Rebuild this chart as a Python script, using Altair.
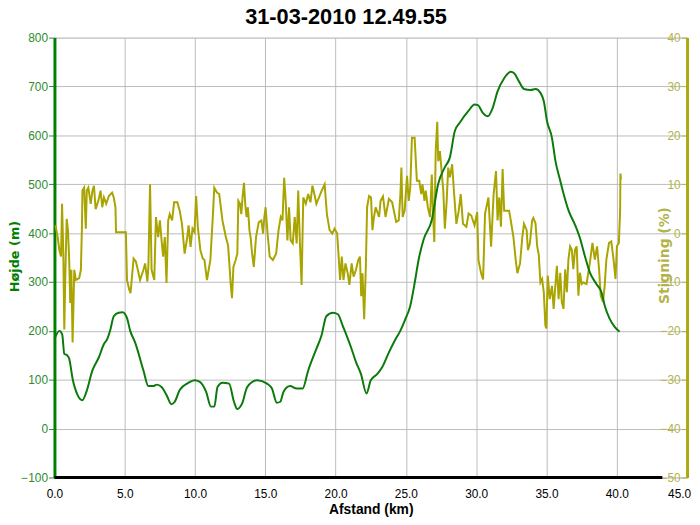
import altair as alt
import pandas as pd

TITLE = "31-03-2010 12.49.55"
X_TITLE = "Afstand (km)"
Y_LEFT_TITLE = "Højde (m)"
Y_RIGHT_TITLE = "Stigning (%)"

x_ticks = [0, 5, 10, 15, 20, 25, 30, 35, 40, 45]
elev_ticks = [-100, 0, 100, 200, 300, 400, 500, 600, 700, 800]
grade_ticks = [-50, -40, -30, -20, -10, 0, 10, 20, 30, 40]

# Elevation profile (km, m)
elev_points = [
    (0.0, 183), (0.35, 200), (0.55, 193), (0.70, 153), (0.90, 150), (1.05, 143),
    (1.29, 102), (1.64, 69), (1.99, 58), (2.27, 75), (2.70, 119), (3.16, 146),
    (3.52, 173), (3.75, 183), (3.98, 203), (4.22, 230), (4.57, 237), (4.85, 238),
    (5.15, 227), (5.39, 200), (5.74, 176), (6.33, 119), (6.68, 87), (7.03, 87),
    (7.27, 90), (7.62, 85), (7.97, 69), (8.32, 50), (8.56, 55), (8.91, 79),
    (9.49, 93), (9.96, 99), (10.32, 96), (10.79, 75), (11.13, 45), (11.37, 45),
    (11.60, 85), (11.95, 94), (12.42, 92), (12.77, 55), (13.00, 40), (13.36, 52),
    (13.71, 85), (14.42, 99), (15.12, 92), (15.47, 82), (15.82, 53), (16.06, 55),
    (16.29, 75), (16.76, 87), (17.23, 82), (17.65, 82), (18.05, 119), (18.63, 163),
    (18.99, 190), (19.34, 230), (19.81, 237), (20.16, 234), (20.51, 210), (20.75, 193),
    (21.10, 166), (21.45, 136), (21.80, 112), (22.20, 72), (22.50, 99), (22.97, 112),
    (23.32, 126), (23.79, 156), (24.26, 183), (24.60, 200), (24.96, 224), (25.31, 251),
    (25.66, 304), (25.90, 345), (26.25, 386), (26.84, 427), (27.30, 501), (27.77, 535),
    (28.13, 555), (28.48, 609), (28.83, 626), (29.42, 649), (29.89, 663), (30.12, 662),
    (30.47, 646), (30.82, 639), (31.17, 656), (31.52, 690), (31.99, 717), (32.46, 730),
    (32.70, 727), (33.05, 710), (33.40, 695), (33.87, 693), (34.22, 695), (34.57, 687),
    (34.81, 670), (35.04, 629), (35.39, 595), (35.63, 549), (35.97, 508), (36.21, 481),
    (36.56, 447), (37.03, 417), (37.38, 390), (37.73, 353), (38.09, 319), (38.55, 296),
    (38.91, 279), (39.14, 252), (39.49, 225), (39.85, 208), (40.20, 198),
]

# Gradient (km, %) in four stretches
grade_part1 = [
    (0.07, 1.6), (0.23, -0.8), (0.35, -3.5), (0.47, -4.8), (0.54, 6.0), (0.63, -4.2),
    (0.70, -19.7), (0.77, -8.9), (0.87, 2.9), (0.96, 0.6), (1.05, -5.5), (1.12, -14.3),
    (1.20, -7.5), (1.29, -22.4), (1.41, -7.5), (1.52, -9.6), (1.76, -9.2), (1.88, -7.5),
    (1.95, 0.6), (1.99, 8.7), (2.11, 9.3), (2.23, 0.9), (2.30, 8.7), (2.41, 9.3),
    (2.58, 6.0), (2.70, 8.7), (2.81, 9.7), (2.93, 4.9), (3.12, 6.6), (3.28, 8.7),
    (3.40, 5.3), (3.52, 7.3), (3.68, 6.0), (3.87, 7.6), (4.10, 8.3), (4.22, 7.3),
    (4.34, 5.3), (4.38, 0.2), (5.08, 0.2), (5.16, -9.6), (5.32, -11.6), (5.41, -12.3),
    (5.63, -5.2), (5.79, -5.8), (5.93, -7.5), (6.09, -9.6), (6.33, -7.5), (6.45, -6.2),
    (6.61, -9.9), (6.68, -6.9), (6.80, 10.0), (6.91, -7.5), (7.10, -9.6), (7.22, 3.3),
    (7.38, -0.8), (7.50, 2.6), (7.62, -1.5), (7.73, -4.8), (7.85, -0.8), (7.97, -10.2),
    (8.09, 2.6), (8.20, 3.9), (8.37, 2.6), (8.51, 6.3), (8.74, 6.3), (8.91, 4.6),
    (9.07, 1.9), (9.26, -4.2), (9.45, -0.8), (9.54, 1.6), (9.68, -2.8), (9.82, 0.9),
    (9.96, 0.2), (10.08, 7.6), (10.20, 1.2), (10.38, -3.5), (10.55, -5.2), (10.67, -5.5),
    (10.85, -9.6), (11.09, -5.5), (11.25, 2.6), (11.37, 9.3), (11.56, 8.3),
]
grade_part2 = [
    (11.72, 8.0), (11.95, 2.6), (12.19, -0.8), (12.35, -2.5), (12.47, -7.5), (12.54, -10.6),
    (12.63, -13.3), (12.73, -6.9), (12.89, -5.5), (13.01, -4.2), (13.08, 6.6), (13.20, 6.0),
    (13.29, 3.9), (13.38, 7.3), (13.48, 10.3), (13.57, 6.0), (13.66, 3.3), (13.76, 5.3),
    (13.87, 0.6), (13.95, -0.8), (14.06, -4.2), (14.18, -6.9), (14.34, -0.8), (14.53, 2.2),
    (14.72, 2.6), (14.84, -0.1), (14.93, 3.3), (15.02, 5.3), (15.16, -0.1), (15.31, -4.8),
    (15.54, -5.5), (15.77, -4.2), (15.94, 0.6), (16.10, 3.3), (16.22, 2.6), (16.34, 11.3),
    (16.45, 6.6), (16.57, -1.5), (16.69, 5.3), (16.80, -1.5), (16.95, -2.1), (17.09, 3.3),
    (17.23, -2.1), (17.34, 8.7), (17.46, -2.1), (17.58, -10.6), (17.70, 7.3), (17.88, 6.0),
    (18.05, 8.0), (18.21, 6.3), (18.35, 9.7), (18.49, 8.0), (18.63, 6.0), (18.82, 7.3),
    (19.01, 8.7), (19.22, 10.0), (19.38, 3.9), (19.57, 0.6), (19.76, -0.1), (19.92, 0.9),
    (20.11, -0.1), (20.23, -5.5), (20.32, -9.6), (20.44, -4.8), (20.56, -9.6), (20.70, -6.2),
    (20.86, -8.2), (20.98, -10.6), (21.14, -6.2), (21.28, -8.9), (21.45, -7.5), (21.61, -5.5),
    (21.73, -4.8), (21.82, -12.9), (21.91, -8.2), (22.03, -17.6), (22.15, -6.9), (22.24, 5.3),
    (22.38, 7.6), (22.52, 7.3), (22.62, 0.6), (22.73, 3.3),
]
grade_part3 = [
    (22.85, 5.3), (23.09, 3.3), (23.20, 6.6), (23.37, 7.5), (23.55, 3.3), (23.79, 7.0),
    (24.02, 6.3), (24.31, 2.3), (24.49, 2.6), (24.61, 8.0), (24.68, 13.4), (24.77, 3.3),
    (24.91, 4.6), (25.08, 11.7), (25.20, 6.6), (25.31, 9.3), (25.43, 19.5), (25.62, 19.5),
    (25.78, 10.7), (25.95, 10.7), (26.09, 8.0), (26.18, 10.0), (26.32, 6.6), (26.41, 8.7),
    (26.56, 5.3), (26.72, 3.3), (26.84, 12.0), (26.95, 2.6), (27.02, -1.8), (27.12, 16.8),
    (27.23, 22.8), (27.30, 14.7), (27.42, 16.8), (27.54, 12.7), (27.66, 8.7), (27.77, 0.9),
    (27.89, 6.0), (28.01, 13.4), (28.13, 11.4), (28.29, 14.1), (28.43, 8.0), (28.59, 1.9),
    (28.76, 4.6), (28.90, 8.0), (29.06, 1.9), (29.30, 1.3), (29.46, 4.0), (29.65, 3.6),
    (29.88, 1.6), (30.07, 4.3), (30.16, -5.5), (30.35, -8.2), (30.49, -9.5), (30.63, 4.0),
    (30.87, 7.3), (31.06, -2.8), (31.24, 8.0), (31.41, 12.7), (31.52, 2.6), (31.64, 7.3),
    (31.76, 1.3), (31.88, 13.1), (31.99, 4.6), (32.18, 4.6), (32.34, 4.6), (32.46, 2.6),
    (32.65, -0.8), (32.81, -5.5), (32.93, -8.2), (33.12, -6.2), (33.28, -0.8), (33.40, 1.9),
    (33.59, 0.6), (33.68, -3.5), (33.82, -2.1), (33.98, 2.6),
]
grade_part4 = [
    (34.06, 3.1), (34.22, 2.0), (34.34, -2.7), (34.45, -4.4), (34.57, -10.1), (34.69, -9.4),
    (34.81, -12.1), (34.92, -18.9), (34.99, -19.5), (35.09, -8.7), (35.23, -13.5), (35.39, -10.8),
    (35.51, -15.5), (35.63, -10.8), (35.74, -6.7), (35.86, -13.5), (35.98, -8.1), (36.09, -14.1),
    (36.21, -15.5), (36.33, -7.4), (36.45, -12.1), (36.56, -5.4), (36.68, -2.7), (36.80, -3.4),
    (36.91, -7.4), (37.03, -3.4), (37.15, -2.7), (37.27, -12.8), (37.38, -8.1), (37.50, -10.4),
    (37.62, -10.1), (37.85, -10.4), (38.09, -6.0), (38.27, -2.0), (38.44, -5.4), (38.60, -2.7),
    (38.74, -7.4), (38.86, -12.8), (39.02, -14.1), (39.14, -10.8), (39.26, -5.4), (39.45, -2.0),
    (39.61, -1.7), (39.77, -5.4), (39.91, -9.4), (40.01, -2.7), (40.15, -2.0), (40.24, 4.7),
    (40.26, 12.2), (40.30, 11.0),
]

elev_df = pd.DataFrame(elev_points, columns=["km", "elev"])
grade_df = pd.DataFrame(grade_part1 + grade_part2 + grade_part3 + grade_part4,
                        columns=["km", "grade"])

FONT = "Liberation Sans"
TFONT = "DejaVu Sans"
GRID = "#BBBBBB"
GREEN_LINE = "#0B7A0B"
GREEN_AXIS = "#008000"
GREEN_TEXT = "#2E8B2E"
OLIVE_LINE = "#A9A400"
OLIVE_AXIS = "#AAAA10"
OLIVE_TEXT = "#B3B34A"

x_enc = alt.X(
    "km:Q",
    scale=alt.Scale(domain=[0, 45], nice=False, zero=False),
    axis=alt.Axis(
        values=x_ticks, format=".1f", title=X_TITLE, grid=True, gridColor=GRID,
        domain=False, ticks=False, tickSize=0,
        labelColor="#000000", labelFont=FONT, labelFontSize=12, labelPadding=11,
        labelFlush=False, labelOverlap=False,
        labelOffset={"condition": {"test": "datum.value == 45", "value": -8}, "value": 0},
        titleFont=FONT, titleFontSize=14, titleFontWeight="bold", titleColor="#000000",
        titlePadding=3,
    ),
)

grade_line = alt.Chart(grade_df).mark_line(color=OLIVE_LINE, strokeWidth=2).encode(
    x=x_enc,
    y=alt.Y(
        "grade:Q",
        scale=alt.Scale(domain=[-50, 40], nice=False, zero=False),
        axis=alt.Axis(
            orient="left", offset=-640, values=grade_ticks, title=Y_RIGHT_TITLE, grid=False,
            domainColor=OLIVE_AXIS, domainWidth=3, tickColor=OLIVE_TEXT, tickSize=6,
            labelColor=OLIVE_TEXT, labelFont=FONT, labelFontSize=12, labelPadding=1,
            labelFlush=False,
            titleFont=TFONT, titleFontSize=14, titleFontWeight="bold", titleColor=OLIVE_TEXT,
            titleX=-23, titleY=220, titleBaseline="middle", titleAngle=270,
        ),
    ),
)

elev_line = alt.Chart(elev_df).mark_line(
    color=GREEN_LINE, strokeWidth=2, interpolate="monotone"
).encode(
    x=x_enc,
    y=alt.Y(
        "elev:Q",
        scale=alt.Scale(domain=[-100, 800], nice=False, zero=False),
        axis=alt.Axis(
            orient="left", values=elev_ticks, title=Y_LEFT_TITLE, grid=True, gridColor=GRID,
            domainColor=GREEN_AXIS, domainWidth=3, tickColor=GREEN_TEXT, tickSize=6,
            labelColor=GREEN_TEXT, labelFont=FONT, labelFontSize=12, labelPadding=1,
            labelFlush=False,
            titleFont=TFONT, titleFontSize=13, titleFontWeight="bold", titleColor=GREEN_AXIS,
            titleX=-40, titleY=221, titleBaseline="middle", titleAngle=270,
        ),
    ),
)

x_domain_line = alt.Chart(pd.DataFrame({"d": [0]})).mark_rule(
    color="#000000", strokeWidth=3
).encode(x=alt.value(0), x2=alt.value(615), y=alt.value(445))

chart = (
    alt.layer(grade_line, elev_line, x_domain_line)
    .resolve_scale(y="independent")
    .properties(
        width=640,
        height=445,
        title=alt.TitleParams(TITLE, font=FONT, fontSize=22, fontWeight="bold",
                              color="#000000", anchor="middle", dx=-25, offset=3),
        autosize=alt.AutoSizeParams(type="none"),
        padding={"left": 47, "top": 27, "right": 5, "bottom": 37},
    )
    .configure_view(strokeWidth=0)
    .configure(background="#FFFFFF")
)

chart.save("out.html", embed_options={"renderer": "svg", "actions": False})
